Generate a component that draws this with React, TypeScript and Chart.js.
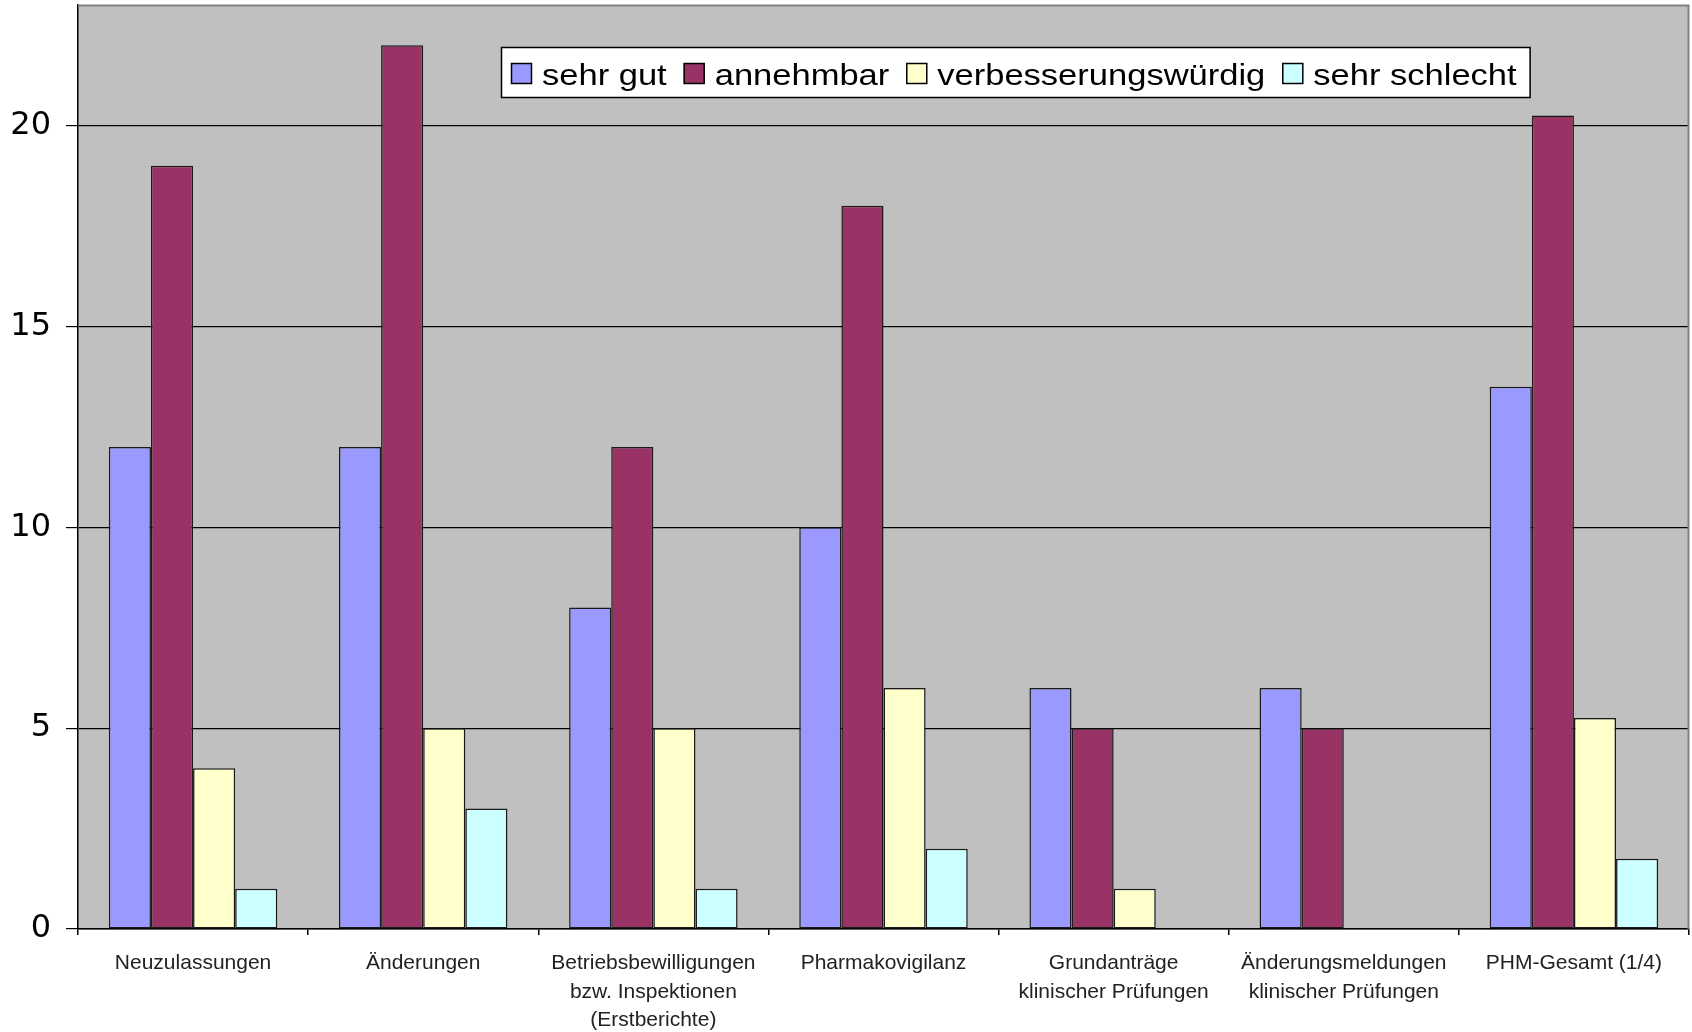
import React, { useEffect, useRef } from 'react';
import { Chart, registerables } from 'chart.js';

Chart.register(...registerables);

const categories: (string | string[])[] = [
  'Neuzulassungen',
  'Änderungen',
  ['Betriebsbewilligungen', 'bzw. Inspektionen', '(Erstberichte)'],
  'Pharmakovigilanz',
  ['Grundanträge', 'klinischer Prüfungen'],
  ['Änderungsmeldungen', 'klinischer Prüfungen'],
  'PHM-Gesamt (1/4)',
];

const seriesLabels = ['sehr gut', 'annehmbar', 'verbesserungswürdig', 'sehr schlecht'];
const seriesColors = ['#9999FF', '#993366', '#FFFFCC', '#CCFFFF'];

const sehrGut = [12, 12, 8, 10, 6, 6, 13.5];
const annehmbar = [19, 22, 12, 18, 5, 5, 20.25];
const verbesserungswuerdig = [4, 5, 5, 6, 1, 0, 5.25];
const sehrSchlecht = [1, 3, 1, 2, 0, 0, 1.75];

const yMin = 0;
const yMax = 23;
const yStep = 5;

const W = 1692;
const H = 1032;

const bgPlugin = {
  id: 'plotBackground',
  beforeDraw(chart: any) {
    const { ctx, chartArea } = chart;
    ctx.save();
    ctx.fillStyle = '#ffffff';
    ctx.fillRect(0, 0, chart.width, chart.height);
    ctx.fillStyle = '#C0C0C0';
    ctx.fillRect(chartArea.left, chartArea.top, chartArea.right - chartArea.left, chartArea.bottom - chartArea.top);
    ctx.restore();
  },
};

const frameAndLegendPlugin = {
  id: 'frameAndLegend',
  afterDraw(chart: any) {
    const { ctx, chartArea } = chart;
    ctx.save();
    ctx.strokeStyle = '#808080';
    ctx.lineWidth = 2;
    ctx.beginPath();
    ctx.moveTo(chartArea.left, chartArea.top + 0.5);
    ctx.lineTo(chartArea.right - 0.5, chartArea.top + 0.5);
    ctx.lineTo(chartArea.right - 0.5, chartArea.bottom);
    ctx.stroke();

    const x0 = chartArea.left + 423;
    const y0 = chartArea.top + 42;
    const h = 50;
    const sx = 1.19;
    ctx.font = '29px "Liberation Sans", Arial, sans-serif';
    const items = chart.data.datasets.map((ds: any) => ({ label: ds.label, color: ds.backgroundColor }));
    let w = 10;
    items.forEach((it: any, i: number) => {
      w += 21 + 10 + ctx.measureText(it.label).width * sx + (i < items.length - 1 ? 17 : 13);
    });
    ctx.fillStyle = '#ffffff';
    ctx.fillRect(x0, y0, w, h);
    ctx.strokeStyle = '#000000';
    ctx.lineWidth = 1.5;
    ctx.strokeRect(x0 + 0.5, y0 + 0.5, w, h);
    let x = x0 + 10;
    items.forEach((it: any) => {
      ctx.fillStyle = it.color;
      ctx.fillRect(x, y0 + 16, 21, 21);
      ctx.strokeStyle = '#000000';
      ctx.lineWidth = 1.5;
      ctx.strokeRect(x + 0.5, y0 + 16.5, 20, 20);
      x += 31;
      const tw = ctx.measureText(it.label).width * sx;
      ctx.save();
      ctx.translate(x, y0 + 37.5);
      ctx.scale(sx, 1);
      ctx.fillStyle = '#000000';
      ctx.textBaseline = 'alphabetic';
      ctx.textAlign = 'left';
      ctx.fillText(it.label, 0, 0);
      ctx.restore();
      x += tw + 17;
    });
    ctx.restore();
  },
};

export default function App() {
  const ref = useRef<HTMLCanvasElement>(null);

  useEffect(() => {
    document.body.style.margin = '0';
    const canvas = ref.current;
    if (!canvas) return;
    const seriesData = [sehrGut, annehmbar, verbesserungswuerdig, sehrSchlecht];
    const chart = new Chart(canvas, {
      type: 'bar',
      data: {
        labels: categories,
        datasets: seriesData.map((d, i) => ({
          label: seriesLabels[i],
          data: d,
          backgroundColor: seriesColors[i],
          borderColor: '#1a1a1a',
          borderWidth: 1.5,
          borderSkipped: false,
          categoryPercentage: 0.732,
          barPercentage: 1,
        })),
      },
      options: {
        responsive: false,
        animation: false,
        devicePixelRatio: 1,
        layout: { padding: { top: 5, right: 3, left: 0, bottom: 0 } },
        plugins: {
          legend: { display: false },
          tooltip: { enabled: false },
        },
        scales: {
          x: {
            offset: true,
            grid: {
              offset: true,
              drawOnChartArea: false,
              drawTicks: true,
              tickLength: 6,
              color: '#000000',
              lineWidth: 1.5,
            },
            border: { display: true, color: '#000000', width: 1.5 },
            ticks: {
              color: '#222222',
              padding: 14,
              maxRotation: 0,
              autoSkip: false,
              font: { family: '"Liberation Sans", Arial, sans-serif', size: 21, lineHeight: 1.36 },
            },
            afterFit: (scale: any) => {
              scale.height = 103;
              scale.paddingLeft = 0;
              scale.paddingRight = 0;
            },
          },
          y: {
            min: yMin,
            max: yMax,
            grid: {
              color: '#000000',
              lineWidth: 1.2,
              drawTicks: true,
              tickLength: 12,
            },
            border: { display: true, color: '#000000', width: 1.5 },
            ticks: {
              stepSize: yStep,
              includeBounds: false,
              color: '#000000',
              padding: 15,
              font: { family: '"DejaVu Sans", Verdana, sans-serif', size: 32 },
            },
            afterFit: (scale: any) => {
              scale.width = 78;
              scale.paddingTop = 0;
              scale.paddingBottom = 0;
            },
          },
        },
      },
      plugins: [bgPlugin, frameAndLegendPlugin],
    });
    return () => chart.destroy();
  }, []);

  return (
    <div style={{ width: W, height: H }}>
      <canvas ref={ref} width={W} height={H} style={{ display: 'block' }} />
    </div>
  );
}
